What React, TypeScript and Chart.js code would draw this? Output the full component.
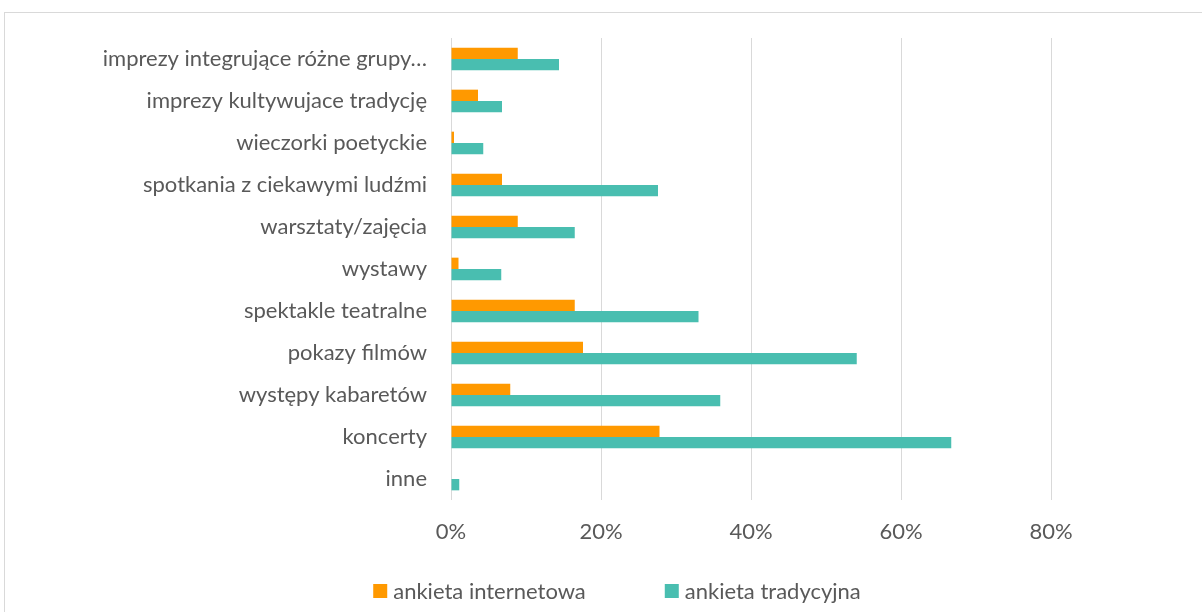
import React, { useEffect, useRef } from "react";
import { Chart, registerables } from "chart.js";

Chart.register(...registerables);

const categories = [
  "imprezy integrujące różne grupy…",
  "imprezy kultywujace tradycję",
  "wieczorki poetyckie",
  "spotkania z ciekawymi ludźmi",
  "warsztaty/zajęcia",
  "wystawy",
  "spektakle teatralne",
  "pokazy filmów",
  "występy kabaretów",
  "koncerty",
  "inne",
];
const internetValues = [8.9, 3.6, 0.4, 6.8, 8.9, 1.0, 16.5, 17.6, 7.9, 27.8, 0];
const traditionalValues = [14.4, 6.8, 4.3, 27.6, 16.5, 6.7, 33.0, 54.1, 35.9, 66.7, 1.1];
const tickValues = [0, 20, 40, 60, 80];
const seriesNames = ["ankieta internetowa", "ankieta tradycyjna"];
const seriesColors = ["#FF9900", "#49BEB0"];

const FONT_FAMILY = "Lato, 'Open Sans', sans-serif";
const FONT_SIZE = 22;
const TEXT_COLOR = "#595959";

const legendPlugin = {
  id: "customLegend",
  afterDraw(chart: any) {
    const ctx = chart.ctx as CanvasRenderingContext2D;
    ctx.save();
    ctx.font = `${FONT_SIZE}px ${FONT_FAMILY}`;
    ctx.textBaseline = "middle";
    ctx.textAlign = "left";
    const box = 14;
    const gap = 6;
    const itemGap = 79;
    const items = chart.data.datasets.map((ds: any) => ({
      label: ds.label,
      color: ds.backgroundColor,
      w: ctx.measureText(ds.label).width,
    }));
    const total =
      items.reduce((s: number, it: any) => s + box + gap + it.w, 0) +
      itemGap * (items.length - 1);
    let x = 617 - total / 2;
    const y = 591;
    for (const it of items) {
      ctx.fillStyle = it.color;
      ctx.fillRect(x, y - box / 2, box, box);
      x += box + gap;
      ctx.fillStyle = TEXT_COLOR;
      ctx.fillText(it.label, x, y + 1);
      x += it.w + itemGap;
    }
    ctx.restore();
  },
};

export default function App() {
  const canvasRef = useRef<HTMLCanvasElement>(null);

  useEffect(() => {
    if (!canvasRef.current) return;
    const font = { family: FONT_FAMILY, size: FONT_SIZE };
    const chart = new Chart(canvasRef.current, {
      type: "bar",
      data: {
        labels: categories,
        datasets: [
          {
            label: seriesNames[0],
            data: internetValues,
            backgroundColor: seriesColors[0],
            categoryPercentage: 0.54,
            barPercentage: 1,
          },
          {
            label: seriesNames[1],
            data: traditionalValues,
            backgroundColor: seriesColors[1],
            categoryPercentage: 0.54,
            barPercentage: 1,
          },
        ],
      },
      options: {
        indexAxis: "y",
        responsive: false,
        maintainAspectRatio: false,
        animation: false,
        layout: { padding: { top: 38, right: 76, bottom: 0, left: 0 } },
        plugins: {
          legend: { display: false },
          tooltip: { enabled: false },
        },
        scales: {
          x: {
            min: 0,
            max: 90,
            afterBuildTicks: (s: any) => {
              s.ticks = tickValues.map((v) => ({ value: v }));
            },
            ticks: {
              callback: (v: any) => `${v}%`,
              color: TEXT_COLOR,
              font,
              padding: 19,
              maxRotation: 0,
            },
            grid: { color: "#d9d9d9", lineWidth: 1, drawTicks: false },
            border: { display: false },
            afterFit: (s: any) => {
              s.height = 112;
            },
          },
          y: {
            ticks: { color: TEXT_COLOR, font, padding: 24, autoSkip: false },
            grid: { display: false, drawTicks: false },
            border: { display: false },
            afterFit: (s: any) => {
              s.width = 451;
            },
          },
        },
      },
      plugins: [legendPlugin],
    });
    return () => chart.destroy();
  }, []);

  return (
    <div style={{ position: "fixed", left: 0, top: 0, width: 1202, height: 612, background: "#fff", overflow: "hidden" }}>
      <div
        style={{
          position: "absolute",
          left: 4,
          top: 12,
          width: 1210,
          height: 620,
          border: "1px solid #d9d9d9",
          boxSizing: "border-box",
        }}
      />
      <canvas
        ref={canvasRef}
        width={1202}
        height={612}
        style={{ position: "absolute", left: 0, top: 0, width: 1202, height: 612 }}
      />
    </div>
  );
}
